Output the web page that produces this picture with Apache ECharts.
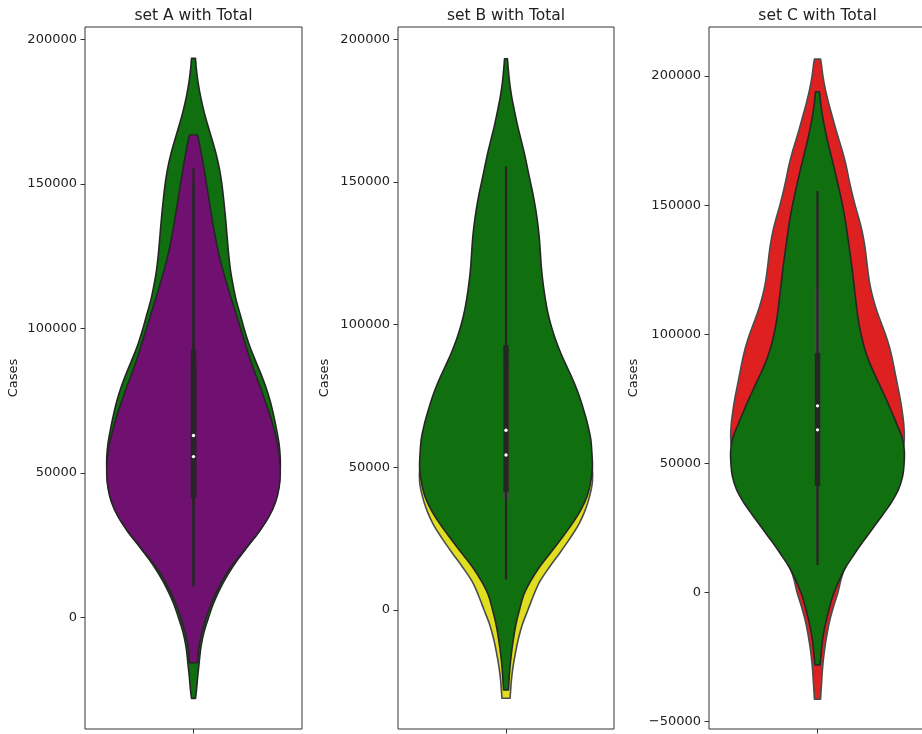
<!DOCTYPE html>
<html>
<head>
<meta charset="utf-8">
<script src="https://cdn.jsdelivr.net/npm/echarts@6/dist/echarts.min.js"></script>
<style>
  html, body { margin: 0; padding: 0; background: #ffffff; }
  #chart { width: 922px; height: 734px; }
</style>
</head>
<body>
<div id="chart"></div>
<script>
// ---- data -------------------------------------------------------------
const panelTitles = ['set A with Total', 'set B with Total', 'set C with Total'];
const yAxisName = 'Cases';
const yTickValues = [
  [0, 50000, 100000, 150000, 200000],
  [0, 50000, 100000, 150000, 200000],
  [-50000, 0, 50000, 100000, 150000, 200000]
];
const yRanges = [[-38490, 204250], [-41720, 204380], [-52830, 218980]];

// Kernel density profiles: [Cases, density]; density in arbitrary units,
// each violin is scaled so that its peak spans 0.4 of the category.
const totalInA = [[-27900,2],[-25000,3],[-20000,4.3],[-15000,5.8],[-10000,7.5],[-5000,10.5],[0,15],[5000,20],[10000,26.5],[15000,34.5],[20000,44],[25000,55],[30000,66],[35000,75],[40000,81.5],[45000,85],[50000,86.5],[55000,86.7],[60000,85.5],[65000,83],[70000,80],[75000,76.5],[80000,72],[85000,66.5],[90000,60.5],[95000,55],[100000,50.5],[105000,46.5],[110000,42.5],[115000,39.5],[120000,37],[125000,35.3],[130000,34],[135000,32.8],[140000,31.5],[145000,30],[150000,28.3],[155000,26],[160000,22.8],[165000,18.8],[170000,14.5],[175000,10.5],[180000,7.2],[185000,4.6],[190000,2.8],[193400,2]];
const setA = [[-15560,4],[-10000,5.5],[-5000,8.5],[0,12.7],[5000,18],[10000,24.5],[15000,32.5],[20000,43],[25000,54.5],[30000,66],[35000,75.5],[40000,82],[45000,85.5],[50000,86.7],[55000,86],[60000,84],[65000,80.5],[70000,76.5],[75000,71.5],[80000,66.5],[85000,61],[90000,56],[95000,51.5],[100000,47],[105000,42.5],[110000,38],[115000,33.7],[120000,29.5],[125000,25.8],[130000,22.7],[135000,20],[140000,17.6],[145000,15.3],[150000,13],[155000,10.6],[160000,8.1],[165000,5.3],[166900,4]];
const totalInB = [[-28050,2.5],[-25000,3],[-20000,4],[-15000,5.5],[-10000,7.5],[-5000,10],[0,13.5],[5000,17.5],[10000,24.5],[15000,33.5],[20000,44.5],[25000,55.5],[30000,66],[35000,75],[40000,81.5],[45000,85],[50000,86.7],[55000,86.2],[60000,85],[65000,82],[70000,78],[75000,73.5],[80000,68],[85000,61.5],[90000,55],[95000,49.5],[100000,45],[105000,41.5],[110000,39],[115000,37],[120000,35.5],[125000,34.5],[130000,33.5],[135000,32],[140000,30],[145000,27.5],[150000,24.5],[155000,21.5],[160000,18.5],[165000,15],[170000,11.5],[175000,8.5],[180000,5.7],[185000,3.6],[190000,2.2],[193200,1.5]];
const setB = [[-30960,4],[-28000,4.7],[-25000,5.3],[-20000,7],[-15000,9.5],[-10000,12.5],[-5000,16.5],[0,22],[5000,27.5],[10000,34],[15000,43.5],[20000,54],[25000,64],[30000,73],[35000,79.5],[40000,84],[45000,86.7],[50000,86.5],[55000,84],[60000,80],[65000,75],[70000,70],[75000,64.5],[80000,59],[85000,53.5],[90000,48.5],[95000,44],[100000,40.5],[110000,35.5],[120000,32],[130000,29],[140000,25],[150000,20],[160000,14.5],[170000,9],[176000,5.5],[178000,4]];
const totalInC = [[-28000,2.5],[-25000,3.3],[-20000,4.5],[-15000,6.5],[-10000,9.3],[-5000,12.5],[0,16.5],[5000,22],[10000,28.5],[15000,37],[20000,46],[25000,55.5],[30000,65],[35000,74],[40000,81],[45000,85],[50000,86.5],[55000,86.7],[60000,84.5],[65000,79.5],[70000,74],[75000,68.5],[80000,62.5],[85000,56.5],[90000,51],[95000,46.7],[100000,43.5],[105000,41],[110000,39.2],[115000,37.7],[120000,36.2],[125000,34.7],[130000,33],[135000,31.2],[140000,29.4],[145000,27.4],[150000,25],[155000,22.2],[160000,19.3],[165000,16.3],[170000,13.1],[175000,10],[180000,7.2],[185000,4.8],[190000,3],[193900,2]];
const setC = [[-41290,3],[-38000,3.5],[-35000,4],[-30000,4.8],[-25000,6],[-20000,7.7],[-15000,9.8],[-10000,12.5],[-5000,16],[0,20],[5000,23],[10000,27],[15000,33],[20000,40],[25000,48],[30000,56],[35000,64],[40000,71],[45000,77],[50000,81.5],[55000,84],[60000,85],[65000,84.5],[70000,83],[75000,81],[80000,78.5],[85000,76],[90000,73.5],[95000,70.5],[100000,66.5],[105000,61.8],[110000,57.3],[115000,53.7],[120000,51],[125000,49.2],[130000,47.7],[135000,46],[140000,43.6],[145000,40.4],[150000,36.8],[155000,33.6],[160000,30.8],[165000,28.2],[170000,25],[175000,21.2],[180000,17.5],[185000,14],[190000,10.6],[195000,7.6],[200000,5.3],[204000,4],[206580,3]];

// Inner box statistics: [lower whisker, Q1, median, Q3, upper whisker]
const totalStats = [10700, 41300, 63000, 92800, 155500];
const setAStats = [12000, 42000, 55700, 88000, 150000];
const setBStats = [11000, 38800, 54350, 86000, 145000];
const setCStats = [15000, 45000, 72300, 117500, 150000];

// ---- styling ----------------------------------------------------------
const FONT = 'DejaVu Sans';
const fills = { total: '#107010', A: '#701070', B: '#dfdf20', C: '#df2020' };
const grays = { total: '#262626', A: '#262626', B: '#4c4c4c', C: '#4c4c4c' };

// back violin first, front violin second
const panels = [
  { back: [totalInA, 'total', totalStats], front: [setA, 'A', setAStats] },
  { back: [setB, 'B', setBStats], front: [totalInB, 'total', totalStats] },
  { back: [setC, 'C', setCStats], front: [totalInC, 'total', totalStats] }
];

const gridBoxes = [
  { left: 85, width: 217 },
  { left: 398, width: 216 },
  { left: 709, width: 217 }
];
const nameGaps = [65, 67, 69];

// Smooth outline through pixel points (Catmull-Rom to cubic Bezier)
function curveThrough(pts) {
  let d = '';
  for (let i = 0; i < pts.length - 1; i++) {
    const p0 = pts[Math.max(i - 1, 0)], p1 = pts[i], p2 = pts[i + 1], p3 = pts[Math.min(i + 2, pts.length - 1)];
    const c1x = p1[0] + (p2[0] - p0[0]) / 6, c1y = p1[1] + (p2[1] - p0[1]) / 6;
    const c2x = p2[0] - (p3[0] - p1[0]) / 6, c2y = p2[1] - (p3[1] - p1[1]) / 6;
    d += ' C' + c1x.toFixed(2) + ',' + c1y.toFixed(2) + ' ' + c2x.toFixed(2) + ',' + c2y.toFixed(2) +
         ' ' + p2[0].toFixed(2) + ',' + p2[1].toFixed(2);
  }
  return d;
}

function violinSeries(idx, profile, key, z) {
  const peak = Math.max.apply(null, profile.map(p => p[1]));
  const data = profile.map(p => [0.4 * p[1] / peak, p[0]]);
  return {
    type: 'custom', xAxisIndex: idx, yAxisIndex: idx, z: z, silent: true,
    data: data,
    renderItem: function (params, api) {
      if (params.dataIndex !== 0) return null;
      const left = data.map(d => api.coord([-d[0], d[1]]));
      const right = data.slice().reverse().map(d => api.coord([d[0], d[1]]));
      const pathData = 'M' + left[0][0].toFixed(2) + ',' + left[0][1].toFixed(2) + curveThrough(left) +
        ' L' + right[0][0].toFixed(2) + ',' + right[0][1].toFixed(2) + curveThrough(right) + ' Z';
      return {
        type: 'path',
        shape: { pathData: pathData },
        style: { fill: fills[key], stroke: grays[key], lineWidth: 1.6, lineJoin: 'round' }
      };
    }
  };
}

function boxSeries(idx, stats, key, z) {
  return {
    type: 'custom', xAxisIndex: idx, yAxisIndex: idx, z: z, silent: true,
    data: [[0].concat(stats)],
    renderItem: function (params, api) {
      const lo = api.coord([0, api.value(1)]);
      const q1 = api.coord([0, api.value(2)]);
      const q3 = api.coord([0, api.value(4)]);
      const hi = api.coord([0, api.value(5)]);
      return {
        type: 'group',
        children: [
          { type: 'line', shape: { x1: lo[0], y1: lo[1], x2: hi[0], y2: hi[1] },
            style: { stroke: grays[key], lineWidth: 2.2 } },
          { type: 'line', shape: { x1: q1[0], y1: q1[1], x2: q3[0], y2: q3[1] },
            style: { stroke: grays[key], lineWidth: 5.4 } }
        ]
      };
    }
  };
}

function medianSeries(idx, stats, z) {
  return {
    type: 'custom', xAxisIndex: idx, yAxisIndex: idx, z: z, silent: true,
    data: [[0, stats[2]]],
    renderItem: function (params, api) {
      const p = api.coord([api.value(0), api.value(1)]);
      return { type: 'circle', shape: { cx: p[0], cy: p[1], r: 1.7 }, style: { fill: '#ffffff' } };
    }
  };
}

const grid = [], xAxis = [], yAxis = [], series = [], title = [];
const fmt = v => (v < 0 ? '\u2212' + Math.abs(v) : String(v));

panels.forEach((pn, i) => {
  const g = gridBoxes[i];
  grid.push({ left: g.left, width: g.width, top: 27, height: 702, show: true,
    borderColor: '#333', borderWidth: 1, backgroundColor: 'transparent', outerBoundsMode: 'none' });
  title.push({ text: panelTitles[i], left: g.left + g.width / 2, top: 8, textAlign: 'center', padding: 0,
    textStyle: { fontFamily: FONT, fontSize: 15.5, fontWeight: 'normal', color: '#222' } });
  xAxis.push({ type: 'value', gridIndex: i, min: -0.5, max: 0.5, position: 'bottom',
    axisLine: { show: false, onZero: false }, splitLine: { show: false },
    axisTick: { show: true, length: 4.5, customValues: [0], lineStyle: { color: '#333', width: 1 } },
    axisLabel: { show: false } });
  yAxis.push({ type: 'value', gridIndex: i, min: yRanges[i][0], max: yRanges[i][1], position: 'left',
    name: yAxisName, nameLocation: 'middle', nameGap: nameGaps[i],
    nameTextStyle: { fontFamily: FONT, fontSize: 13, color: '#222' },
    axisLine: { show: false, onZero: false }, splitLine: { show: false },
    axisTick: { show: true, length: 4.5, customValues: yTickValues[i], lineStyle: { color: '#333', width: 1 } },
    axisLabel: { customValues: yTickValues[i], formatter: fmt, margin: 8,
      fontFamily: FONT, fontSize: 13, color: '#222' } });

  series.push(violinSeries(i, pn.back[0], pn.back[1], 1));
  series.push(violinSeries(i, pn.front[0], pn.front[1], 2));
  series.push(boxSeries(i, pn.back[2], pn.back[1], 3));
  series.push(boxSeries(i, pn.front[2], pn.front[1], 4));
  series.push(medianSeries(i, pn.back[2], 5));
  series.push(medianSeries(i, pn.front[2], 5));
});

const chart = echarts.init(document.getElementById('chart'), null, { renderer: 'canvas' });
chart.setOption({
  animation: false,
  backgroundColor: '#ffffff',
  title: title,
  grid: grid,
  xAxis: xAxis,
  yAxis: yAxis,
  series: series
});
</script>
</body>
</html>
